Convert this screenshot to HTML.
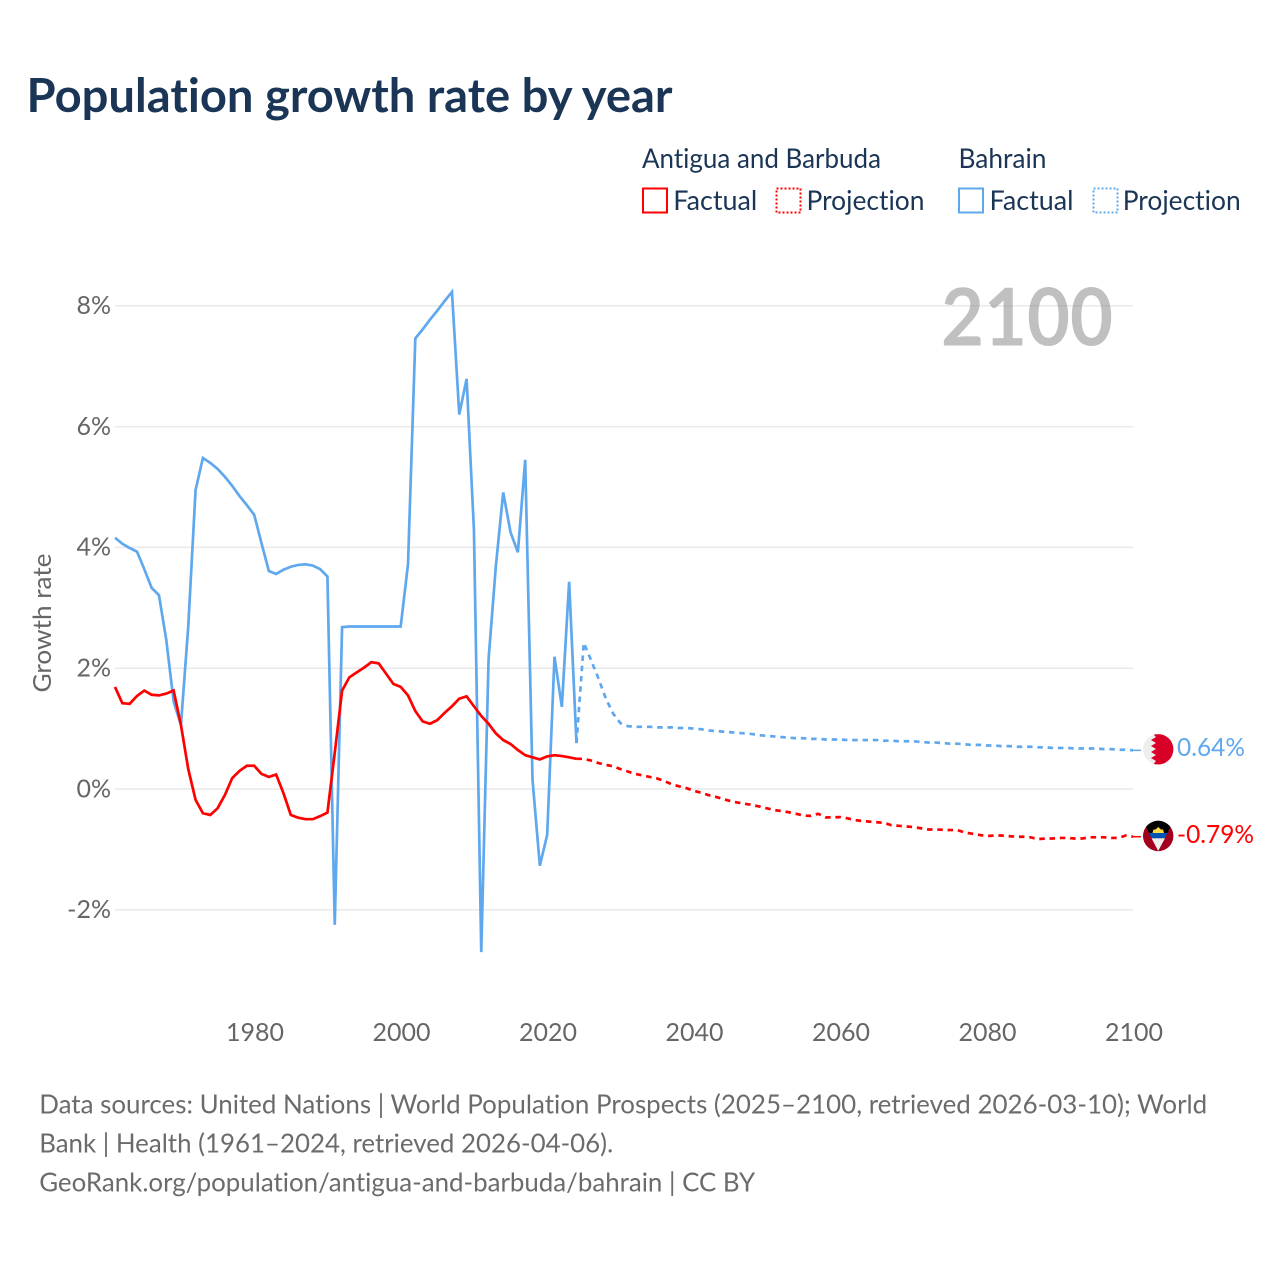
<!DOCTYPE html>
<html lang="en">
<head>
<meta charset="utf-8">
<title>Population growth rate by year</title>
<style>
html,body{margin:0;padding:0;background:#fff;}
svg{display:block;}
text{font-family:"Lato","Carlito","Liberation Sans",sans-serif;font-variant-ligatures:none;}
</style>
</head>
<body>
<svg id="chart" xmlns="http://www.w3.org/2000/svg" width="1280" height="1280" viewBox="0 0 1280 1280">
  <rect x="0" y="0" width="1280" height="1280" fill="#ffffff"/>
  <text x="26.5" y="112" font-size="47" font-weight="700" fill="#1a3555" textLength="646" lengthAdjust="spacingAndGlyphs">Population growth rate by year</text>

  <g font-size="27" fill="#1a3555">
    <text x="642" y="168" textLength="239" lengthAdjust="spacingAndGlyphs">Antigua and Barbuda</text>
    <text x="958.5" y="168" textLength="88" lengthAdjust="spacingAndGlyphs">Bahrain</text>
    <g>
      <rect x="643" y="188.5" width="24" height="24" fill="none" stroke="#ff0000" stroke-width="2"/>
      <text x="673.3" y="210" textLength="84" lengthAdjust="spacingAndGlyphs">Factual</text>
    </g>
    <g>
      <rect x="776.5" y="188.5" width="24" height="24" fill="none" stroke="#ff0000" stroke-width="2" stroke-dasharray="2 2"/>
      <text x="806.5" y="210" textLength="118" lengthAdjust="spacingAndGlyphs">Projection</text>
    </g>
    <g>
      <rect x="959" y="188.5" width="24" height="24" fill="none" stroke="#5fa8ee" stroke-width="2"/>
      <text x="989.5" y="210" textLength="84" lengthAdjust="spacingAndGlyphs">Factual</text>
    </g>
    <g>
      <rect x="1093.5" y="188.5" width="24" height="24" fill="none" stroke="#5fa8ee" stroke-width="2" stroke-dasharray="2 2"/>
      <text x="1122.7" y="210" textLength="118" lengthAdjust="spacingAndGlyphs">Projection</text>
    </g>
  </g>

  <g id="grid"></g>
  <text x="1113" y="345.5" text-anchor="end" font-size="80" font-weight="700" fill="#888888" fill-opacity="0.53" textLength="172" lengthAdjust="spacingAndGlyphs">2100</text>
  <g id="yticks"></g>
  <g id="xticks"></g>
  <text transform="translate(51,623) rotate(-90)" text-anchor="middle" font-size="25" fill="#666666" textLength="139" lengthAdjust="spacingAndGlyphs">Growth rate</text>
  <g id="series"></g>

  <g>
    <clipPath id="clip-bh"><circle cx="1158.2" cy="749.3" r="15.2"/></clipPath>
    <g clip-path="url(#clip-bh)">
      <rect x="1142" y="733" width="32" height="33" fill="#eeeeee"/>
      <polygon fill="#d80027" points="1175,733 1152,733 1156,737 1151,740 1156,743 1151,746 1156,749 1151,752 1156,755 1151,758 1156,761 1152,766 1175,766"/>
    </g>
  </g>
  <g>
    <clipPath id="clip-ag"><circle cx="1158.2" cy="836" r="15.2"/></clipPath>
    <g clip-path="url(#clip-ag)">
      <rect x="1142" y="820" width="33" height="32" fill="#a2001d"/>
      <polygon fill="#000000" points="1142.5,820 1174,820 1158.2,851"/>
      <polygon fill="#ffda44" points="1152.5,833 1153.5,829.5 1155.5,829.5 1158.2,827 1161,829.5 1163,829.5 1164,833"/>
      <polygon fill="#0052b4" points="1149,833 1167.4,833 1165,838.3 1151.5,838.3"/>
      <polygon fill="#eeeeee" points="1151.5,838.3 1165,838.3 1158.2,851"/>
    </g>
  </g>
  <text id="end-bahrain" x="1177" y="756" font-size="25" fill="#5fa8ee" textLength="68" lengthAdjust="spacingAndGlyphs"></text>
  <text id="end-antigua" x="1177" y="843" font-size="25" fill="#ff0000" textLength="77" lengthAdjust="spacingAndGlyphs"></text>

  <g font-size="26" fill="#6b6b6b">
    <text x="39.2" y="1113.7" textLength="1168" lengthAdjust="spacingAndGlyphs">Data sources: United Nations | World Population Prospects (2025–2100, retrieved 2026-03-10); World</text>
    <text x="39.2" y="1152.7" textLength="574" lengthAdjust="spacingAndGlyphs">Bank | Health (1961–2024, retrieved 2026-04-06).</text>
    <text x="39.2" y="1191.7" textLength="716" lengthAdjust="spacingAndGlyphs">GeoRank.org/population/antigua-and-barbuda/bahrain | CC BY</text>
  </g>
</svg>
<script>
const yTicks = [8, 6, 4, 2, 0, -2];
const xTicks = [1980, 2000, 2020, 2040, 2060, 2080, 2100];
const factualStartYear = 1961;
const projectionStartYear = 2024;
const antiguaFactual = [
  1.69,1.42,1.41,1.54,1.63,1.56,1.55,1.58,1.63,1.06,
  0.33,-0.18,-0.40,-0.43,-0.32,-0.10,0.18,0.30,0.385,0.385,
  0.25,0.20,0.24,-0.07,-0.43,-0.475,-0.50,-0.50,-0.45,-0.39,
  0.60,1.63,1.85,1.93,2.01,2.10,2.08,1.91,1.74,1.69,
  1.55,1.29,1.12,1.08,1.14,1.26,1.37,1.495,1.535,1.37,
  1.21,1.08,0.92,0.81,0.745,0.645,0.56,0.525,0.49,0.54,
  0.56,0.545,0.525,0.50
];
const bahrainFactual = [
  4.16,4.06,3.99,3.93,3.64,3.33,3.21,2.47,1.45,1.06,
  2.69,4.95,5.48,5.40,5.30,5.17,5.02,4.85,4.70,4.54,
  4.07,3.61,3.56,3.63,3.68,3.71,3.72,3.70,3.64,3.52,
  -2.25,2.68,2.69,2.69,2.69,2.69,2.69,2.69,2.69,2.69,
  3.72,7.46,7.61,7.77,7.92,8.08,8.23,6.20,6.79,4.29,
  -2.70,2.15,3.70,4.91,4.25,3.92,5.45,0.15,-1.27,-0.76,
  2.19,1.36,3.43,0.76
];
const antiguaProjection = [
  0.50,0.50,0.47,0.43,0.40,0.375,0.33,0.29,0.25,0.225,
  0.20,0.175,0.13,0.08,0.045,0.015,-0.03,-0.06,-0.10,-0.13,
  -0.165,-0.20,-0.225,-0.245,-0.265,-0.29,-0.32,-0.35,-0.365,-0.385,
  -0.41,-0.44,-0.445,-0.41,-0.47,-0.47,-0.465,-0.485,-0.515,-0.53,
  -0.54,-0.55,-0.56,-0.60,-0.61,-0.62,-0.63,-0.65,-0.67,-0.67,
  -0.675,-0.68,-0.68,-0.72,-0.74,-0.76,-0.78,-0.77,-0.77,-0.78,
  -0.79,-0.79,-0.80,-0.83,-0.82,-0.82,-0.81,-0.81,-0.82,-0.82,
  -0.80,-0.80,-0.80,-0.81,-0.81,-0.77,-0.79
];
const bahrainProjection = [
  0.76,2.42,2.13,1.83,1.50,1.25,1.09,1.04,1.03,1.03,
  1.03,1.02,1.02,1.02,1.01,1.01,1.00,0.99,0.97,0.96,
  0.95,0.94,0.93,0.92,0.91,0.89,0.88,0.87,0.86,0.85,
  0.84,0.84,0.83,0.83,0.82,0.82,0.82,0.81,0.81,0.81,
  0.81,0.81,0.80,0.80,0.79,0.79,0.79,0.78,0.77,0.77,
  0.76,0.75,0.75,0.74,0.73,0.73,0.72,0.72,0.71,0.71,
  0.70,0.70,0.70,0.69,0.69,0.68,0.68,0.68,0.67,0.67,
  0.67,0.67,0.66,0.66,0.65,0.65,0.64
];

const SVG_NS = 'http://www.w3.org/2000/svg';
function xScale(year) { return 115.0 + (year - 1961) * 7.325; }
function yScale(value) { return 789 - value * 60.4; }

function make(tag, parent, attrs) {
  const el = document.createElementNS(SVG_NS, tag);
  Object.keys(attrs).forEach(function (k) { el.setAttribute(k, attrs[k]); });
  parent.appendChild(el);
  return el;
}

const gridGroup = document.getElementById('grid');
const yTickGroup = document.getElementById('yticks');
yTicks.forEach(function (t) {
  const line = make('line', gridGroup, { x1: 115, x2: 1133, y1: yScale(t), y2: yScale(t), stroke: '#e9e9e9', 'stroke-width': 1.5 });
  
  
  const label = make('text', yTickGroup, { x: 111, y: yScale(t) + 8.3, 'text-anchor': 'end', 'font-size': 25, fill: '#666666' });
  
  
  label.textContent = t + '%';
});

const xTickGroup = document.getElementById('xticks');
xTicks.forEach(function (t) {
  const label = make('text', xTickGroup, { x: xScale(t) + 0.8, y: 1041, 'text-anchor': 'middle', 'font-size': 25, fill: '#666666' });
  
  
  label.textContent = String(t);
});

function pathFor(values, startYear) {
  return values.map(function (v, i) {
    return (i === 0 ? 'M' : 'L') + xScale(startYear + i).toFixed(2) + ' ' + yScale(v).toFixed(2);
  }).join(' ');
}

const seriesGroup = document.getElementById('series');

const bahrainFactualLine = make('path', seriesGroup, { d: pathFor(bahrainFactual, factualStartYear), fill: 'none', stroke: '#5fa8ee', 'stroke-width': 2.7, 'stroke-linejoin': 'miter' });



const antiguaFactualLine = make('path', seriesGroup, { d: pathFor(antiguaFactual, factualStartYear), fill: 'none', stroke: '#ff0000', 'stroke-width': 2.7, 'stroke-linejoin': 'miter' });



const bahrainProjectionLine = make('path', seriesGroup, { d: pathFor(bahrainProjection, projectionStartYear), fill: 'none', stroke: '#5fa8ee', 'stroke-width': 2.7, 'stroke-dasharray': '5.5 4.8' });



const antiguaProjectionLine = make('path', seriesGroup, { d: pathFor(antiguaProjection, projectionStartYear), fill: 'none', stroke: '#ff0000', 'stroke-width': 2.7, 'stroke-dasharray': '5.5 4.8' });



const bahrainLast = bahrainProjection[bahrainProjection.length - 1];
const bahrainLeader = make('line', seriesGroup, { x1: xScale(2100), x2: 1141, y1: yScale(bahrainLast), y2: yScale(bahrainLast), stroke: '#5fa8ee', 'stroke-width': 1.5 });



const antiguaLast = antiguaProjection[antiguaProjection.length - 1];
const antiguaLeader = make('line', seriesGroup, { x1: xScale(2100), x2: 1141, y1: yScale(antiguaLast), y2: yScale(antiguaLast), stroke: '#ff0000', 'stroke-width': 1.5 });



document.getElementById('end-bahrain').textContent = bahrainLast.toFixed(2) + '%';
document.getElementById('end-antigua').textContent = antiguaLast.toFixed(2) + '%';
</script>
</body>
</html>
